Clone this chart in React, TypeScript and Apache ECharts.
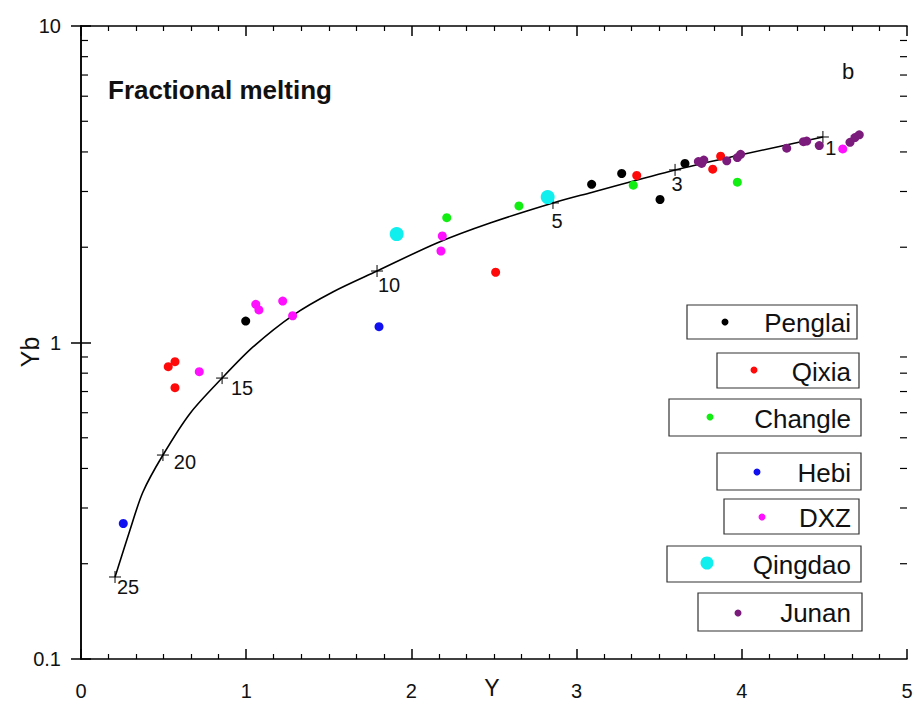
import React, { useEffect, useRef } from "react";
import * as echarts from "echarts";

// ---- data ----
const penglai = [[0.997, 1.169], [3.091, 3.16], [3.273, 3.42], [3.505, 2.83], [3.656, 3.68]];
const qixia = [[0.528, 0.839], [0.569, 0.87], [0.569, 0.72], [2.51, 1.667], [3.364, 3.37], [3.824, 3.53], [3.872, 3.88]];
const changle = [[2.214, 2.48], [2.651, 2.7], [3.343, 3.14], [3.973, 3.21]];
const hebi = [[1.804, 1.122], [0.256, 0.268]];
const dxz = [[0.716, 0.809], [1.058, 1.32], [1.077, 1.267], [1.221, 1.352], [1.281, 1.215], [2.187, 2.17], [2.179, 1.946], [4.611, 4.09]];
const qingdao = [[1.911, 2.2], [2.825, 2.88]];
const junan = [[3.737, 3.73], [3.757, 3.68], [3.77, 3.77], [3.909, 3.75], [3.973, 3.84], [3.993, 3.93], [4.272, 4.11], [4.373, 4.31], [4.393, 4.33], [4.469, 4.19], [4.655, 4.29], [4.685, 4.44], [4.711, 4.53]];

// fractional melting model curve
const curveX = [0.206, 0.297, 0.375, 0.496, 0.66, 0.854, 1.043, 1.285, 1.527, 1.792, 2.155, 2.476, 2.857, 3.091, 3.596, 3.989, 4.491];
const curveY = [0.1816, 0.256, 0.337, 0.441, 0.597, 0.772, 0.97, 1.221, 1.447, 1.682, 2.063, 2.385, 2.76, 2.98, 3.51, 3.91, 4.46];

// melting-degree marks on the curve
const markX = [0.206, 0.496, 0.854, 1.792, 2.857, 3.596, 4.491];
const markY = [0.1816, 0.441, 0.772, 1.682, 2.76, 3.51, 4.46];
const markLabels = ["25", "20", "15", "10", "5", "3", "1"];

const yMinorTicks = [0.2, 0.3, 0.4, 0.5, 0.6, 0.7, 0.8, 0.9, 2, 3, 4, 5, 6, 7, 8, 9];

const seriesNames = ["Penglai", "Qixia", "Changle", "Hebi", "DXZ", "Qingdao", "Junan"];
const seriesData = [penglai, qixia, changle, hebi, dxz, qingdao, junan];

// ---- styles / layout ----
const seriesColors = ["#000000", "#ff0a0a", "#12ee12", "#1010f0", "#ff10ff", "#10eeee", "#7b1c7c"];
const seriesSizes = [9, 9, 9, 9, 9, 14, 9];
const legendMarkerSizes = [7, 7, 7, 7, 7, 13, 7];
const markLabelOffsets = [[13, 10], [22, 7], [20, 10], [12, 14], [4, 18], [2, 14], [8, 11]];
// [left, top, right, bottom, markerX, markerY]
const legendBoxes = [
  [687, 305, 857, 339, 725, 322],
  [717, 353, 859, 388, 754, 370],
  [669, 399, 861, 436, 710, 417],
  [717, 453, 861, 490, 757, 472],
  [724, 499, 859, 534, 762, 517],
  [667, 546, 861, 582, 707, 563],
  [698, 593, 862, 631, 738, 613],
];

const FONT = "'Liberation Sans', Arial, Helvetica, sans-serif";
const TEXT = "#111";

export default function App() {
  const ref = useRef<HTMLDivElement>(null);

  useEffect(() => {
    document.body.style.margin = "0";
    if (!ref.current) return;
    const chart = echarts.init(ref.current, undefined, { renderer: "svg" });

    const axisLine = { show: true, lineStyle: { color: "#000", width: 1.5 } };
    const xCommon = {
      type: "value" as const,
      min: 0,
      max: 5,
      interval: 1,
      axisLine,
      axisTick: { show: true, inside: true, length: 10, lineStyle: { color: "#000", width: 1.5 } },
      minorTick: { show: true, splitNumber: 6, length: 5, lineStyle: { color: "#000", width: 1.2 } },
      splitLine: { show: false },
      minorSplitLine: { show: false },
    };
    const yCommon = {
      type: "log" as const,
      logBase: 10,
      min: 0.1,
      max: 10,
      axisLine,
      axisTick: { show: true, inside: true, length: 10, lineStyle: { color: "#000", width: 1.5 } },
      minorTick: { show: false },
      splitLine: { show: false },
    };

    const scatterSeries = seriesNames.map((name, i) => ({
      name,
      type: "scatter" as const,
      data: seriesData[i],
      symbol: "circle",
      symbolSize: seriesSizes[i],
      itemStyle: { color: seriesColors[i], opacity: 1 },
      z: 5,
    }));

    const graphics: any[] = [];
    legendBoxes.forEach((b, i) => {
      graphics.push({
        type: "rect",
        shape: { x: b[0], y: b[1], width: b[2] - b[0], height: b[3] - b[1] },
        style: { fill: "#fff", stroke: "#333", lineWidth: 1.2 },
        z: 100,
      });
      graphics.push({
        type: "circle",
        shape: { cx: b[4], cy: b[5], r: legendMarkerSizes[i] / 2 },
        style: { fill: seriesColors[i] },
        z: 101,
      });
      graphics.push({
        type: "text",
        x: 851,
        y: (b[1] + b[3]) / 2 + 1,
        style: {
          text: seriesNames[i],
          fontSize: 26,
          fontFamily: FONT,
          fill: TEXT,
          align: "right",
          verticalAlign: "middle",
        },
        z: 101,
      });
    });
    graphics.push({
      type: "text",
      x: 108,
      y: 90,
      style: { text: "Fractional melting", fontSize: 26, fontWeight: "bold", fontFamily: FONT, fill: TEXT, verticalAlign: "middle" },
    });
    graphics.push({
      type: "text",
      x: 848,
      y: 71,
      style: { text: "b", fontSize: 22, fontFamily: FONT, fill: TEXT, align: "center", verticalAlign: "middle" },
    });
    graphics.push({
      type: "text",
      x: 30,
      y: 352,
      rotation: Math.PI / 2,
      style: { text: "Yb", fontSize: 25, fontFamily: FONT, fill: TEXT, align: "center", verticalAlign: "middle" },
    });
    graphics.push({
      type: "text",
      x: 492,
      y: 688,
      style: { text: "Y", fontSize: 23, fontFamily: FONT, fill: TEXT, align: "center", verticalAlign: "middle" },
    });

    chart.setOption({
      animation: false,
      backgroundColor: "#fff",
      grid: { left: 81, right: 12, top: 26, bottom: 43, containLabel: false, outerBoundsMode: "none" },
      xAxis: [
        {
          ...xCommon,
          position: "bottom",
          axisLabel: { show: true, fontSize: 20, fontFamily: FONT, color: TEXT, margin: 22 },
        },
        { ...xCommon, position: "top", axisLabel: { show: false } },
      ],
      yAxis: [
        {
          ...yCommon,
          position: "left",
          axisLabel: {
            show: true,
            fontSize: 20,
            fontFamily: FONT,
            color: TEXT,
            margin: 20,
            formatter: (v: number) => String(v),
          },
        },
        { ...yCommon, position: "right", axisLabel: { show: false } },
      ],
      graphic: graphics,
      series: [
        {
          type: "custom",
          name: "yMinor",
          silent: true,
          clip: false,
          data: yMinorTicks.map((v) => [0, v]),
          encode: { x: 0, y: 1 },
          renderItem: (params: any, api: any) => {
            const p = api.coord([0, api.value(1)]);
            const cs = params.coordSys;
            return {
              type: "group",
              children: [
                { type: "line", shape: { x1: cs.x, y1: p[1], x2: cs.x + 7, y2: p[1] }, style: { stroke: "#000", lineWidth: 1.2 } },
                { type: "line", shape: { x1: cs.x + cs.width, y1: p[1], x2: cs.x + cs.width - 7, y2: p[1] }, style: { stroke: "#000", lineWidth: 1.2 } },
              ],
            };
          },
        },
        {
          type: "line",
          name: "curve",
          data: curveX.map((x, i) => [x, curveY[i]]),
          smooth: 0.3,
          symbol: "none",
          lineStyle: { color: "#000", width: 1.6 },
          z: 3,
        },
        {
          type: "custom",
          name: "marks",
          silent: true,
          data: markX.map((x, i) => [x, markY[i]]),
          encode: { x: 0, y: 1 },
          z: 4,
          renderItem: (params: any, api: any) => {
            const p = api.coord([api.value(0), api.value(1)]);
            const i = params.dataIndex;
            const off = markLabelOffsets[i];
            return {
              type: "group",
              children: [
                { type: "line", shape: { x1: p[0] - 6, y1: p[1], x2: p[0] + 6, y2: p[1] }, style: { stroke: "#000", lineWidth: 1 } },
                { type: "line", shape: { x1: p[0], y1: p[1] - 6, x2: p[0], y2: p[1] + 6 }, style: { stroke: "#000", lineWidth: 1 } },
                {
                  type: "text",
                  x: p[0] + off[0],
                  y: p[1] + off[1],
                  style: { text: markLabels[i], fontSize: 20, fontFamily: FONT, fill: TEXT, align: "center", verticalAlign: "middle" },
                },
              ],
            };
          },
        },
        ...scatterSeries,
      ],
    });

    return () => chart.dispose();
  }, []);

  return <div ref={ref} style={{ width: 919, height: 702 }} />;
}
